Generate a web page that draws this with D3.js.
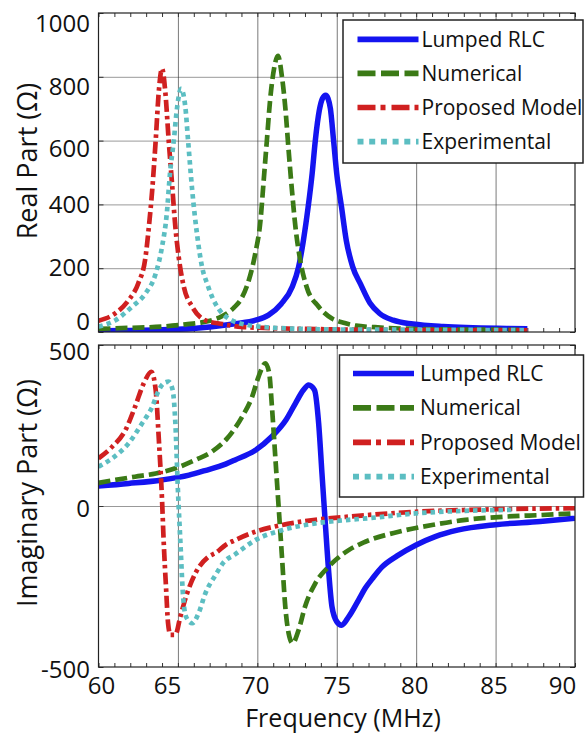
<!DOCTYPE html>
<html>
<head>
<meta charset="utf-8">
<script src="https://cdnjs.cloudflare.com/ajax/libs/d3/7.8.5/d3.min.js"></script>
<style>
  body { margin: 0; background: #fff; }
  svg { display: block; font-family: "Open Sans", sans-serif; }
</style>
</head>
<body>
<svg id="chart"></svg>
<script>
// values, [frequency MHz, ohm]
var seriesNames = ["Lumped RLC", "Numerical", "Proposed Model", "Experimental"];

var realRLC = [[60,4],[62,5],[64,7],[66,11],[67.4,18],[68.6,26],[69.9,37],[70.7,53],[71.5,88],[72.2,142],[72.6,204],[72.9,287],[73.2,392],[73.45,496],[73.65,600],[73.9,694],[74.1,732],[74.3,742],[74.45,732],[74.6,700],[74.8,600],[75.0,496],[75.3,392],[75.6,287],[76.0,205],[76.5,150],[77.1,90],[77.7,58],[78.55,37],[79.8,25],[81.7,17],[85.7,11],[87,10]];
var realNumerical = [[60,10],[62,13],[64,17],[65.5,24],[66.5,30],[67.2,38],[67.8,50],[68.5,75],[69.0,105],[69.45,160],[69.87,246],[70.2,350],[70.4,475],[70.6,600],[70.8,725],[71.05,825],[71.3,866],[71.55,800],[71.76,704],[71.97,569],[72.18,444],[72.4,329],[72.7,225],[73.1,142],[73.85,80],[74.7,42],[75.5,28],[76.2,20],[77.4,15],[79,11],[82,8],[86.5,7]];
var realProposed = [[60,35],[61.07,59],[61.9,100],[62.5,152],[62.96,235],[63.17,329],[63.38,444],[63.6,600],[63.8,756],[64.0,826],[64.2,756],[64.42,600],[64.63,465],[64.84,329],[65.05,235],[65.37,142],[65.9,79],[66.7,37],[67.8,25],[69,16],[71,12],[75,8],[80,6],[87,5]];
var realExperimental = [[60,17],[61.07,37],[62.1,79],[62.96,121],[63.6,183],[64.0,267],[64.3,371],[64.5,496],[64.74,600],[64.95,704],[65.2,762],[65.47,704],[65.64,600],[65.9,444],[66.2,308],[66.52,204],[66.85,150],[67.2,105],[67.6,70],[68.2,42],[69.4,22],[71.5,12],[75,8],[80,7],[87,6]];

var imagRLC = [[60,62],[61.9,70],[64,81],[65.7,96],[66.7,110],[68,130],[68.6,143],[69.9,174],[70.9,215],[71.8,267],[72.4,319],[72.9,360],[73.23,376],[73.6,360],[73.86,257],[74.07,101],[74.28,-54],[74.5,-209],[74.7,-313],[75,-359],[75.3,-370],[75.75,-344],[76.37,-292],[76.8,-255],[77.3,-222],[77.84,-190],[78.8,-155],[80,-121],[81.2,-95],[82.6,-75],[85,-58],[87.8,-48],[90,-38]];
var imagNumerical = [[60,72],[61.07,81],[62.3,91],[63.6,101],[64.84,117],[66.1,143],[67.15,169],[68.1,210],[69.04,277],[69.67,339],[70.08,402],[70.5,443],[70.75,412],[70.92,308],[71.13,153],[71.34,-2],[71.55,-157],[71.76,-313],[71.97,-395],[72.22,-426],[72.6,-385],[73,-313],[73.65,-240],[74.5,-188],[75.75,-137],[76.8,-111],[78.9,-80],[81,-59],[83.1,-43],[85.6,-33],[87.9,-28],[90,-23]];
var imagProposed = [[60,148],[60.86,184],[61.7,236],[62.3,308],[62.85,381],[63.33,417],[63.6,360],[63.8,205],[64,19],[64.1,-106],[64.26,-261],[64.38,-364],[64.53,-400],[64.84,-400],[65.15,-344],[65.58,-271],[66.1,-209],[66.94,-157],[67.4,-145],[68,-121],[68.6,-106],[69.87,-80],[71.55,-59],[73.65,-43],[75.75,-33],[77.2,-27],[79.94,-18],[85.2,-10],[90,-7]];
var imagExperimental = [[60,122],[60.86,148],[61.9,195],[62.75,257],[63.38,308],[63.8,360],[64.1,381],[64.42,386],[64.67,360],[64.84,257],[65,50],[65.15,-106],[65.3,-261],[65.51,-344],[65.9,-364],[66.3,-333],[66.73,-271],[67.36,-215],[67.88,-175],[68.6,-150],[69.87,-106],[71.55,-75],[73.65,-54],[75.75,-43],[77.2,-37],[79.94,-23],[83.1,-15],[86,-12]];

var freqTicks = [60, 65, 70, 75, 80, 85, 90];
var realTicks = [0, 200, 400, 600, 800, 1000];
var imagTicks = [-500, 0, 500];

var width = 585;
var height = 734;
var left = 98.5;
var right = 575;

// line looks, same order as seriesNames
var looks = [
  {color: "#1414f0", width: 5.5, dash: null,           legendDash: null},
  {color: "#3b7a16", width: 4.7, dash: "12,5",         legendDash: "18,5.5"},
  {color: "#d02020", width: 4.7, dash: "12,4,3.5,4",   legendDash: "18,5,5,6"},
  {color: "#5cbec2", width: 4.7, dash: "4.5,4",        legendDash: "6,5.7"}
];

var svg = d3.select("#chart")
    .attr("width", width)
    .attr("height", height);

var xScale = d3.scaleLinear()
                .domain([60, 90])
                .range([left, right]);

// the printed labels sit a little off their ticks in the original
var xNudge = {60: 2.5, 65: -11, 70: -2, 75: 0, 80: -2, 85: -2, 90: -13};

drawPanel({
  id: "real",
  top: 13, bottom: 332,
  domain: [0, 1000],
  ticks: realTicks,
  nudge: {1000: 11, 800: 10, 600: 8, 0: -10},
  series: [realRLC, realNumerical, realProposed, realExperimental],
  title: "Real Part (\u03a9)",
  titleY: 161,
  legend: {x: 343, y: 20, w: 240, h: 143, lineX: 357.5, textX: 421.5, row0: 39.3, step: 34.1}
});

drawPanel({
  id: "imag",
  top: 345, bottom: 667,
  domain: [-500, 500],
  ticks: imagTicks,
  nudge: {500: 7, 0: 3, "-500": 2.5},
  series: [imagRLC, imagNumerical, imagProposed, imagExperimental],
  title: "Imaginary Part (\u03a9)",
  titleY: 493,
  legend: {x: 339.5, y: 355, w: 244, h: 142, lineX: 353, textX: 420, row0: 373.5, step: 34.4}
});

// x tick labels, bottom panel only
svg.append("g")
    .attr("transform", "translate(0,667)")
    .call(d3.axisBottom(xScale)
            .tickValues(freqTicks)
            .tickSize(0)
            .tickPadding(9.5))
    .call(g => g.select(".domain").remove())
    .attr("font-size", 24)
    .attr("font-family", null)
  .selectAll(".tick text")
    .attr("fill", "#111")
    .attr("transform", d => "translate(" + (xNudge[d] || 0) + ",0)");

svg.append("text")
    .attr("x", 343)
    .attr("y", 726.5)
    .style("text-anchor", "middle")
    .style("font-size", "25px")
    .attr("fill", "#111")
    .text("Frequency (MHz)");

function drawPanel(p) {
  var yScale = d3.scaleLinear()
                  .domain(p.domain)
                  .range([p.bottom, p.top]);
  var h = p.bottom - p.top;
  var g = svg.append("g").classed(p.id, true);

  g.append("clipPath")
      .attr("id", "clip-" + p.id)
    .append("rect")
      .attr("x", left)
      .attr("y", p.top)
      .attr("width", right - left)
      .attr("height", h);

  // vertical grid, solid grey
  g.append("g")
      .attr("transform", "translate(0," + p.bottom + ")")
      .call(d3.axisBottom(xScale)
              .tickValues(freqTicks.slice(1, -1))
              .tickSize(-h)
              .tickFormat(""))
      .call(s => s.select(".domain").remove())
    .selectAll("line")
      .attr("stroke", "#7a7a7a")
      .attr("stroke-width", 1);

  // horizontal grid, dotted
  g.append("g")
      .attr("transform", "translate(" + left + ",0)")
      .call(d3.axisLeft(yScale)
              .tickValues(p.ticks.filter(t => t !== p.domain[0] && t !== p.domain[1]))
              .tickSize(-(right - left))
              .tickFormat(""))
      .call(s => s.select(".domain").remove())
    .selectAll("line")
      .attr("stroke", "#333")
      .attr("stroke-width", 1)
      .attr("stroke-dasharray", "1,1");

  // minor ticks every MHz, top and bottom
  g.append("g")
      .attr("transform", "translate(0," + p.bottom + ")")
      .call(d3.axisBottom(xScale).tickValues(d3.range(60, 91)).tickSize(-4).tickFormat(""))
      .call(s => s.select(".domain").remove())
    .selectAll("line").attr("stroke", "#333");
  g.append("g")
      .attr("transform", "translate(0," + p.top + ")")
      .call(d3.axisTop(xScale).tickValues(d3.range(60, 91)).tickSize(-4).tickFormat(""))
      .call(s => s.select(".domain").remove())
    .selectAll("line").attr("stroke", "#333");

  // y ticks on the right
  g.append("g")
      .attr("transform", "translate(" + right + ",0)")
      .call(d3.axisRight(yScale).tickValues(p.ticks).tickSize(-5).tickFormat(""))
      .call(s => s.select(".domain").remove())
    .selectAll("line").attr("stroke", "#333");

  // y ticks and labels on the left
  g.append("g")
      .attr("transform", "translate(" + left + ",0)")
      .call(d3.axisLeft(yScale)
              .tickValues(p.ticks)
              .tickFormat(d => String(d))
              .tickSize(5)
              .tickPadding(3.5))
      .call(s => s.select(".domain").remove())
      .attr("font-size", 24)
      .attr("font-family", null)
      .call(s => s.selectAll(".tick line")
                    .attr("x2", 5)
                    .attr("stroke", "#333"))
    .selectAll(".tick text")
      .attr("fill", "#111")
      .attr("transform", d => "translate(0," + (p.nudge[d] || 0) + ")");

  // curves
  var line = d3.line()
                .x(d => xScale(d[0]))
                .y(d => yScale(d[1]))
                .curve(d3.curveMonotoneX);

  g.append("g")
      .attr("clip-path", "url(#clip-" + p.id + ")")
    .selectAll("path")
    .data(p.series)
    .enter()
    .append("path")
      .attr("d", line)
      .attr("fill", "none")
      .attr("stroke", (d, i) => looks[i].color)
      .attr("stroke-width", (d, i) => looks[i].width)
      .attr("stroke-dasharray", (d, i) => looks[i].dash)
      .attr("stroke-linejoin", "round");

  // frame
  g.append("rect")
      .attr("x", left)
      .attr("y", p.top)
      .attr("width", right - left)
      .attr("height", h)
      .attr("fill", "none")
      .attr("stroke", "#222")
      .attr("stroke-width", 1.2);

  // y title
  g.append("text")
      .attr("transform", "rotate(-90)")
      .attr("x", -p.titleY)
      .attr("y", 37)
      .style("text-anchor", "middle")
      .style("font-size", "27px")
      .attr("fill", "#111")
      .text(p.title);

  // legend
  var L = p.legend;
  var lg = g.append("g");
  lg.append("rect")
      .attr("x", L.x)
      .attr("y", L.y)
      .attr("width", L.w)
      .attr("height", L.h)
      .attr("fill", "#fff")
      .attr("stroke", "#222")
      .attr("stroke-width", 1.5);

  var rows = lg.selectAll(".row")
      .data(seriesNames)
      .enter()
      .append("g")
        .classed("row", true)
        .attr("transform", (d, i) => "translate(0," + (L.row0 + i * L.step) + ")");

  rows.append("line")
      .attr("x1", L.lineX)
      .attr("x2", L.lineX + 61)
      .attr("stroke", (d, i) => looks[i].color)
      .attr("stroke-width", 5.7)
      .attr("stroke-dasharray", (d, i) => looks[i].legendDash);

  rows.append("text")
      .attr("x", L.textX)
      .attr("dy", "0.35em")
      .style("font-size", "21px")
      .attr("fill", "#111")
      .text(d => d);
}
</script>
</body>
</html>
